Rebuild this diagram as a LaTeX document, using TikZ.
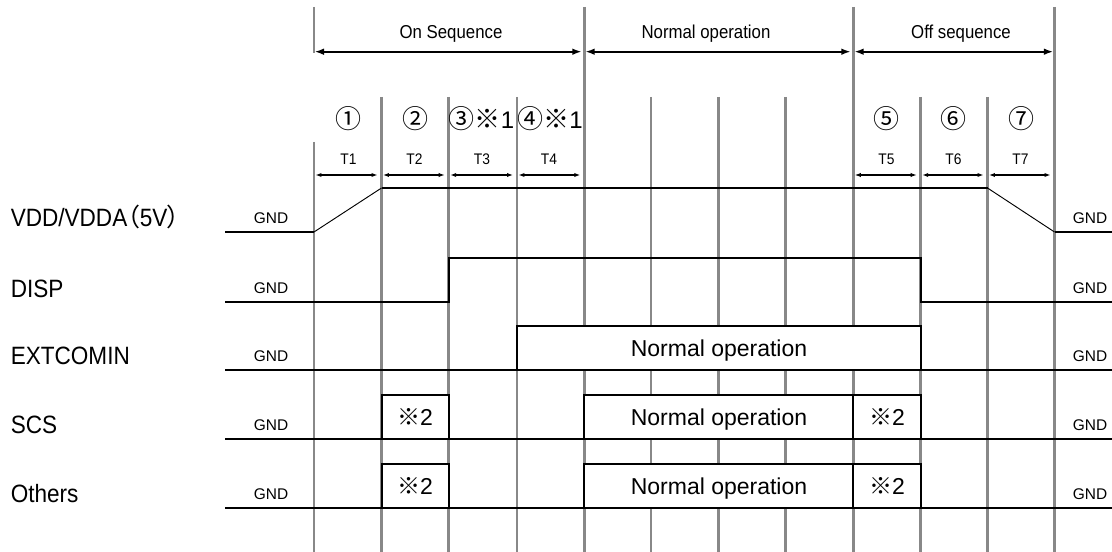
\documentclass[tikz,border=0pt]{standalone}
\usepackage{fontspec}
\setmainfont{Liberation Sans}
\newfontfamily\cf{Liberation Sans}[FakeStretch=0.9]
\newfontfamily\jf{Noto Sans CJK JP}
\newfontfamily\jfp{Noto Sans CJK JP}[RawFeature=+palt]
\usetikzlibrary{arrows.meta}
\definecolor{gridgray}{RGB}{136,136,136}
\newcommand{\onefig}{{\normalfont\fontsize{18}{20}\selectfont 1}}
\begin{document}
\begin{tikzpicture}[x=0.75pt,y=-0.75pt,
  gridline/.style={draw=gridgray,line width=2pt},
  sig/.style={line width=1.5pt},
  ramp/.style={line width=0.7pt},
  phase/.style={line width=1.3pt,{Latex[length=7pt,width=5pt]}-{Latex[length=7pt,width=5pt]}},
  tarr/.style={line width=0.9pt,{Latex[length=4.5pt,width=3.2pt]}-{Latex[length=4.5pt,width=3.2pt]}},
  lbl/.style={font={\cf\fontsize{18.8}{20}\selectfont},anchor=base west,inner sep=0pt},
  gnd/.style={font={\fontsize{11.6}{13}\selectfont},anchor=base,inner sep=0pt},
  toplbl/.style={font={\cf\fontsize{14}{15}\selectfont},anchor=base,inner sep=0pt},
  tlbl/.style={font={\cf\fontsize{11.5}{13}\selectfont},anchor=base,inner sep=0pt},
  circ/.style={font={\jfp\fontsize{19.5}{21}\selectfont},anchor=base,inner sep=0pt},
  boxtxt/.style={font={\fontsize{17.25}{19}\selectfont},anchor=base,inner sep=0pt},
  sigbox/.style={line width=1.5pt,fill=white}
]
\useasboundingbox (0,0) rectangle (1112,552);
% grid coordinates
\foreach \i/\x in {0/314,1/381.5,2/448.7,3/517,4/584.3,5/651,6/718.3,7/785.7,8/853.3,9/920.7,10/987.5,11/1054.5}{
  \coordinate (top\i) at (\x,7);
  \coordinate (mid\i) at (\x,97);
  \coordinate (bot\i) at (\x,552);
  \coordinate (ph\i) at (\x,51.7);
  \coordinate (tt\i) at (\x,175);
}
% vertical grey lines
\draw[gridline] (top0) -- (314,53);
\draw[gridline] (314,142) -- (bot0);
\foreach \i in {4,8,11}{\draw[gridline] (top\i) -- (bot\i);}
\foreach \i in {1,2,3,5,6,7,9,10}{\draw[gridline] (mid\i) -- (bot\i);}

% phase arrows
\draw[phase] ([xshift=0.5pt]ph0) -- ([xshift=-2pt]ph4);
\draw[phase] ([xshift=0.8pt]ph4) -- ([xshift=-2pt]ph8);
\draw[phase] ([xshift=0.8pt]ph8) -- ([xshift=-1pt]ph11);
\node[toplbl] (onseq) at (451,38.3) {On Sequence};
\node[toplbl] (normop) at (706,38.3) {Normal operation};
\node[toplbl] (offseq) at (961,38.3) {Off sequence};

% circled numbers
\node[circ] (n1) at (348,129) {①};
\node[circ] (n2) at (415,129) {②};
\node[circ] (n3) at (481.5,129) {③※\onefig};
\node[circ] (n4) at (550,129) {④※\onefig};
\node[circ] (n5) at (886,129) {⑤};
\node[circ] (n6) at (953.5,129) {⑥};
\node[circ] (n7) at (1021,129) {⑦};

% T arrows and labels
\foreach \a/\b/\t in {0/1/T1,1/2/T2,2/3/T3,3/4/T4,8/9/T5,9/10/T6,10/11/T7}{
  \draw[tarr] ([xshift=1.1pt]tt\a) -- ([xshift=-3pt]tt\b);
}
\node[tlbl] (t1) at (348.5,165) {T1};
\node[tlbl] (t2) at (414.5,165) {T2};
\node[tlbl] (t3) at (482,165) {T3};
\node[tlbl] (t4) at (549,165) {T4};
\node[tlbl] (t5) at (886.5,165) {T5};
\node[tlbl] (t6) at (953.5,165) {T6};
\node[tlbl] (t7) at (1020.5,165) {T7};

% left labels
\node[lbl] (lv) at (10.5,227) {VDD/VDDA{\jfp （}5V{\jfp ）}};
\node[lbl] (ld) at (10.5,297) {DISP};
\node[lbl] (le) at (10.5,364.5) {EXTCOMIN};
\node[lbl] (ls) at (10.5,433.5) {SCS};
\node[lbl] (lo) at (10.5,502.5) {Others};

% GND labels
\foreach \y/\n in {232/a,302/b,370/c,439/d,508/e}{
  \node[gnd] (gl\n) at (271,\y-8.5) {GND};
  \node[gnd] (gr\n) at (1090,\y-8.5) {GND};
}

% VDD
\draw[sig] (225,232) -- (mid0 |- 0,232);
\draw[ramp] (314,232) -- (381.5,188);
\draw[sig] (381.5,188) -- (987.5,188);
\draw[ramp] (987.5,188) -- (1054.5,232);
\draw[sig] (1054.5,232) -- (1112,232);
% DISP
\draw[sig] (225,302) -- (448.7,302) -- (448.7,258) -- (920.7,258) -- (920.7,302) -- (1112,302);
% EXTCOMIN
\draw[sigbox] (517,326) rectangle (920.7,370);
\node[boxtxt] (eno) at (719,356.7) {Normal operation};
\draw[sig] (225,370) -- (1112,370);
% SCS
\draw[sigbox] (381.5,395) rectangle (448.7,439);
\draw[sigbox] (584.3,395) rectangle (853.3,439);
\draw[sigbox] (853.3,395) rectangle (920.7,439);
\node[boxtxt] (s2a) at (415,425) {{\jf ※}2};
\node[boxtxt] (sno) at (719,425) {Normal operation};
\node[boxtxt] (s2b) at (887,425) {{\jf ※}2};
\draw[sig] (225,439) -- (1112,439);
% Others
\draw[sigbox] (381.5,464) rectangle (448.7,508);
\draw[sigbox] (584.3,464) rectangle (853.3,508);
\draw[sigbox] (853.3,464) rectangle (920.7,508);
\node[boxtxt] (o2a) at (415,494) {{\jf ※}2};
\node[boxtxt] (ono) at (719,494) {Normal operation};
\node[boxtxt] (o2b) at (887,494) {{\jf ※}2};
\draw[sig] (225,508) -- (1112,508);
\end{tikzpicture}
\end{document}
